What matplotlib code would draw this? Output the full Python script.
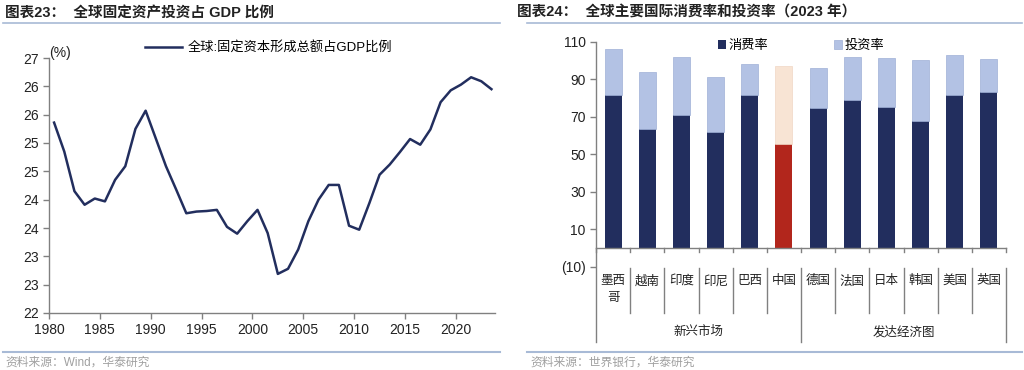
import matplotlib.pyplot as plt
from matplotlib.lines import Line2D

plt.rcParams['font.family'] = ['Liberation Sans', 'Noto Sans CJK SC']
plt.rcParams['axes.unicode_minus'] = False

# left chart: global GFCF share of GDP (%)
years = list(range(1980, 2024))
gfcf = [25.36, 24.85, 24.15, 23.91, 24.02, 23.97, 24.35, 24.59, 25.25, 25.57,
        25.08, 24.59, 24.18, 23.76, 23.79, 23.80, 23.82, 23.52, 23.40, 23.62,
        23.82, 23.41, 22.69, 22.78, 23.12, 23.62, 24.00, 24.26, 24.26, 23.54,
        23.47, 23.94, 24.44, 24.62, 24.84, 25.07, 24.97, 25.24, 25.72, 25.93,
        26.03, 26.16, 26.09, 25.95]
left_yticks = [22, 22.5, 23, 23.5, 24, 24.5, 25, 25.5, 26, 26.5]
left_ylabels = ['22', '23', '23', '24', '24', '25', '25', '26', '26', '27']
left_xticks = [1980, 1985, 1990, 1995, 2000, 2005, 2010, 2015, 2020]

# right chart: consumption / investment rate 2023
countries = ['墨西\n哥', '越南', '印度', '印尼', '巴西', '中国',
             '德国', '法国', '日本', '韩国', '美国', '英国']
consumption = [81.4, 63.5, 70.7, 62.0, 81.6, 55.6, 74.5, 78.9, 75.4, 67.9, 81.6, 83.4]
investment = [24.5, 30.5, 31.0, 29.2, 16.5, 41.5, 21.5, 23.0, 25.9, 32.4, 21.5, 17.6]
groups = ['新兴市场', '发达经济图']
right_yticks = [-10, 10, 30, 50, 70, 90, 110]
right_ylabels = ['(10)', '10', '30', '50', '70', '90', '110']

navy = '#222e5e'
light = '#b3c2e4'
red = '#b2261c'
peach = '#f8e4d4'
axis_grey = '#808080'
rule_blue = '#a8bad6'

fig = plt.figure(figsize=(10.24, 3.70), dpi=100)
W, H = 1024.0, 370.0

# titles and rules
fig.text(5 / W, 1 - 13 / H, '图表23：  全球固定资产投资占 GDP 比例', fontsize=10.5,
         fontweight='bold', va='center', ha='left', color='#222222')
fig.text(517 / W, 1 - 13 / H, '图表24：  全球主要国际消费率和投资率（2023 年）', fontsize=10.5,
         fontweight='bold', va='center', ha='left', color='#222222')
fig.add_artist(Line2D([3 / W, 500 / W], [1 - 23 / H, 1 - 23 / H], color=rule_blue, lw=1.2))
fig.add_artist(Line2D([527 / W, 1022 / W], [1 - 23 / H, 1 - 23 / H], color=rule_blue, lw=1.2))
fig.add_artist(Line2D([3 / W, 500 / W], [1 - 352 / H, 1 - 352 / H], color=rule_blue, lw=1.5))
fig.add_artist(Line2D([527 / W, 1022 / W], [1 - 352 / H, 1 - 352 / H], color=rule_blue, lw=1.5))
fig.text(5 / W, 1 - 363 / H, '资料来源：Wind，华泰研究', fontsize=8.5, va='center', color='#a0a0a0')
fig.text(530 / W, 1 - 363 / H, '资料来源：世界银行，华泰研究', fontsize=8.5, va='center', color='#a0a0a0')

# ---- left chart
ax1 = fig.add_axes([49 / W, 1 - 313 / H, 446 / W, 255 / H])
ax1.plot([y + 0.5 for y in years], gfcf, color=navy, lw=1.8, label='全球:固定资本形成总额占GDP比例')
ax1.set_xlim(1980, 2023.85)
ax1.set_ylim(22, 26.5)
ax1.set_yticks(left_yticks)
ax1.set_yticklabels(left_ylabels)
ax1.set_xticks(left_xticks)
ax1.tick_params(labelsize=10, color=axis_grey, length=4, width=1, labelcolor='#222222')
for s in ['top', 'right']:
    ax1.spines[s].set_visible(False)
for s in ['left', 'bottom']:
    ax1.spines[s].set_color(axis_grey)
    ax1.spines[s].set_linewidth(1)
ax1.text(0.0, 1.02, '(%)', transform=ax1.transAxes, fontsize=10, ha='left', va='center',
         color='#222222')
ax1.legend(loc='upper left', bbox_to_anchor=(145 / W, 1 - 42 / H), bbox_transform=fig.transFigure,
           frameon=False, fontsize=9.5, handlelength=2.8, handletextpad=0.4,
           borderpad=0, borderaxespad=0)

# ---- right chart
ax2 = fig.add_axes([596 / W, 1 - 266.7 / H, 410 / W, 225 / H])
x = list(range(len(countries)))
cons_colors = [red if c == '中国' else navy for c in countries]
inv_colors = [peach if c == '中国' else light for c in countries]
inv_edges = ['#f0d6c4' if c == '中国' else '#9fb0d6' for c in countries]
ax2.bar(x, consumption, width=0.5, color=cons_colors, label='消费率')
ax2.bar(x, investment, width=0.5, bottom=consumption, color=inv_colors,
        edgecolor=inv_edges, linewidth=0.5, label='投资率')
ax2.set_xlim(-0.5, len(countries) - 0.5)
ax2.set_ylim(-10, 110)
ax2.set_yticks(right_yticks)
ax2.set_yticklabels(right_ylabels)
ax2.set_xticks([])
ax2.tick_params(axis='y', labelsize=10, color=axis_grey, length=4, width=1, labelcolor='#222222')
for s in ['top', 'right', 'bottom', 'left']:
    ax2.spines[s].set_visible(False)

# zero axis with boundary ticks
ax2.plot([-0.5, len(countries) - 0.5], [0, 0], color=axis_grey, lw=1, clip_on=False)
for k in range(len(countries) + 1):
    b = k - 0.5
    ax2.plot([b, b], [0, -2], color=axis_grey, lw=1, clip_on=False)
    if k in (0, 6, 12):
        top = 110 if k == 0 else -10.7
        ax2.plot([b, b], [top, -50], color=axis_grey, lw=1, clip_on=False)
    else:
        ax2.plot([b, b], [-10.7, -34.7], color=axis_grey, lw=1, clip_on=False)
for i, c in enumerate(countries):
    ax2.text(i, -14.5, c, ha='center', va='top', fontsize=9, color='#222222', linespacing=1.5)
ax2.text(2.5, -44.9, groups[0], ha='center', va='center', fontsize=9, color='#222222')
ax2.text(8.5, -44.9, groups[1], ha='center', va='center', fontsize=9, color='#222222')

h, l = ax2.get_legend_handles_labels()
ax2.legend(h, l, loc='upper left', bbox_to_anchor=(718 / W, 1 - 40 / H),
           bbox_transform=fig.transFigure, ncol=2, frameon=False, fontsize=9.5,
           handlelength=0.6, handleheight=0.6, handletextpad=0.2, columnspacing=5.0,
           borderpad=0, borderaxespad=0)

plt.savefig('out.png', dpi=100)
plt.close()
